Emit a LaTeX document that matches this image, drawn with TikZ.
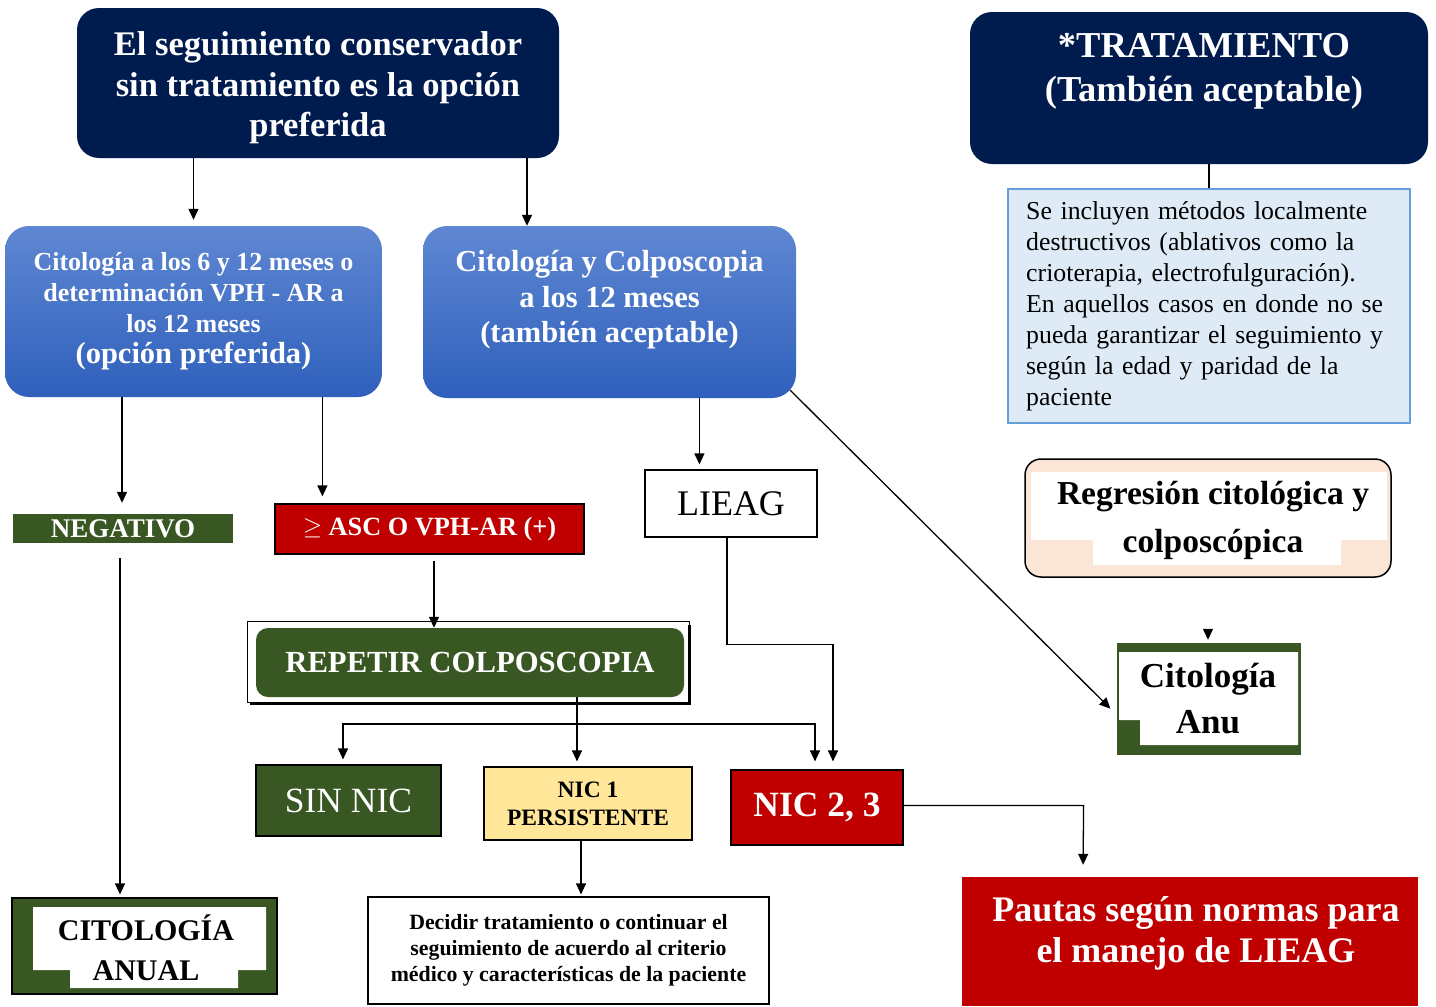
\documentclass[tikz,border=0pt]{standalone}
\usepackage{fontspec}
\setmainfont{Liberation Serif}
\usetikzlibrary{arrows.meta,calc}
\definecolor{navy}{RGB}{0,27,77}
\definecolor{bluetop}{RGB}{95,135,210}
\definecolor{bluebot}{RGB}{47,96,188}
\definecolor{leaf}{RGB}{56,87,35}
\definecolor{alarm}{RGB}{192,0,0}
\definecolor{sand}{RGB}{255,230,153}
\definecolor{sky}{RGB}{222,235,247}
\definecolor{skyline}{RGB}{100,160,215}
\definecolor{peach}{RGB}{251,229,214}
\newcommand{\fs}[2]{\fontsize{#1}{#2}\selectfont}
\tikzset{
  arr/.style={-{Triangle[length=11pt,width=10pt]}, line width=1.3pt},
  plain/.style={line width=1.1pt},
  navybox/.style={fill=navy, rounded corners=22pt, inner sep=0pt},
  bluebox/.style={top color=bluetop, bottom color=bluebot, rounded corners=24pt, text=white, align=center, inner sep=0pt},
  flat/.style={draw=black, line width=1.2pt, inner sep=0pt, align=center},
  whitetxt/.style={text=white, align=center, inner sep=0pt},
}
\begin{document}
\begin{tikzpicture}[x=1pt,y=-1pt]
\useasboundingbox (0,0) rectangle (1436,1007);

\node[navybox, minimum width=482pt, minimum height=150pt] (title) at (318,83) {};
\node[whitetxt, font=\fs{34.5}{40.5}\bfseries] (titletxt) at (318,88)
  {El seguimiento conservador\\sin tratamiento es la opción\\preferida};

\node[navybox, minimum width=458pt, minimum height=152pt] (trat) at (1199,88) {};
\node[whitetxt, font=\fs{36.5}{44}\bfseries] (trattxt) at (1204,71) {*TRATAMIENTO\\(También aceptable)};

\node[draw=skyline, fill=sky, line width=1.5pt, minimum width=402pt, minimum height=234pt] (info) at (1209,306) {};
\node[anchor=west, text width=380pt, align=left, inner sep=0pt, font=\fs{25.8}{31}] (infotxt) at (1026,306)
  {Se incluyen métodos localmente\\destructivos (ablativos como la\\crioterapia, electrofulguración).\\En aquellos casos en donde no se\\pueda garantizar el seguimiento y\\según la edad y paridad de la\\paciente};

\node[bluebox, minimum width=377pt, minimum height=171pt, font=\fs{26}{31}\bfseries] (lblue) at (193.5,311.5)
  {Citología a los 6 y 12 meses o\\determinación VPH - AR a\\los 12 meses\\\fs{30.5}{34}\bfseries(opción preferida)};
\node[bluebox, minimum width=373pt, minimum height=172pt] (rblue) at (609.5,312) {};
\node[whitetxt, font=\fs{30.5}{35.5}\bfseries] (rbluetxt) at (609.5,300)
  {Citología y Colposcopia\\a los 12 meses\\(también aceptable)};

\node[fill=leaf, whitetxt, minimum width=220pt, minimum height=29pt, font=\fs{27}{28}\bfseries] (neg) at (123,528.5) {NEGATIVO};
\node[flat, fill=alarm, text=white, minimum width=309pt, minimum height=50pt, font=\fs{26.3}{28}\bfseries] (asc) at (429.5,529) {\raisebox{1pt}{\fs{30}{30}$\geq$} ASC O VPH-AR (+)};
\node[flat, fill=white, minimum width=172pt, minimum height=67pt, font=\fs{36}{38}] (lieag) at (731,503.5) {LIEAG};

\node[fill=leaf, rounded corners=12pt, whitetxt, minimum width=428pt, minimum height=69pt, font=\fs{30.7}{34}\bfseries] (rep) at (470,662.5) {REPETIR COLPOSCOPIA};
\draw[line width=1.2pt] ([shift={(-8pt,6pt)}]rep.north west) rectangle ([shift={(5pt,-5pt)}]rep.south east);
\draw[line width=3pt] ([shift={(-6pt,-6pt)}]rep.south west) -- ([shift={(5pt,-6pt)}]rep.south east) -- ([shift={(5pt,3pt)}]rep.north east);

\node[flat, fill=leaf, text=white, minimum width=185pt, minimum height=71pt, font=\fs{35.5}{38}] (sinnic) at (348.5,800.5) {SIN NIC};
\node[flat, fill=sand, minimum width=208pt, minimum height=73pt, font=\fs{23.5}{28}\bfseries] (nic1) at (588,803.5) {NIC 1\\PERSISTENTE};
\node[flat, fill=alarm, text=white, minimum width=172pt, minimum height=75pt, font=\fs{35.5}{38}\bfseries] (nic23) at (817,807.5) {NIC 2, 3};

\node[flat, fill=white, minimum width=401pt, minimum height=107pt, font=\fs{21.8}{26}\bfseries] (dec) at (568.5,950.5)
  {Decidir tratamiento o continuar el\\seguimiento de acuerdo al criterio\\médico y características de la paciente};

\node[fill=alarm, minimum width=456pt, minimum height=129pt, inner sep=0pt] (pautas) at (1190,941.5) {};
\node[whitetxt, font=\fs{36}{41}\bfseries] (pautastxt) at (1196,933) {Pautas según normas para\\el manejo de LIEAG};

\node[draw=black, fill=leaf, line width=1.2pt, minimum width=265pt, minimum height=96pt, inner sep=0pt] (citleft) at (144.5,946) {};
\fill[white] (33,907) -- (266,907) -- (266,970) -- (238,970) -- (238,988) -- (70,988) -- (70,970) -- (33,970) -- cycle;
\node[inner sep=0pt, align=center, font=\fs{30}{40}\bfseries] (citlefttxt) at (146,948) {CITOLOGÍA\\ANUAL};

\node[draw=black, fill=peach, rounded corners=16pt, line width=1.5pt, minimum width=366pt, minimum height=118pt, inner sep=0pt] (regr) at (1208,518) {};
\fill[white] (1031,472) -- (1387,472) -- (1387,540) -- (1341,540) -- (1341,565) -- (1093,565) -- (1093,540) -- (1031,540) -- cycle;
\node[inner sep=0pt, align=center, font=\fs{33.5}{48}\bfseries] (regrtxt) at (1213,520) {Regresión citológica y\\colposcópica};

\node[fill=leaf, minimum width=184pt, minimum height=112pt, inner sep=0pt] (citright) at (1209,699) {};
\fill[white] (1119,652) -- (1298,652) -- (1298,745) -- (1140,745) -- (1140,720) -- (1119,720) -- cycle;
\node[inner sep=0pt, align=center, font=\fs{35}{46}\bfseries] (citrighttxt) at (1208,699) {Citología\\Anu};

\draw[arr, shorten >=6pt] (lblue.north |- title.south) -- (lblue.north);
\draw[arr] ([xshift=-82.5pt]rblue.north |- title.south) -- ([xshift=-82.5pt]rblue.north);
\draw[plain] (trat.south -| info.north) -- (info.north);

\draw[arr, shorten >=11pt] ([xshift=-1pt]neg.north |- lblue.south) -- ([xshift=-1pt]neg.north);
\draw[arr, shorten >=7pt] ([xshift=48pt]asc.north west |- lblue.south) -- ([xshift=48pt]asc.north west);
\draw[arr, shorten >=5pt] ([xshift=55pt]lieag.north west |- rblue.south) -- ([xshift=55pt]lieag.north west);
\draw[arr, shorten <=6pt] ([xshift=4.5pt]asc.south) -- ([xshift=4.5pt]asc.south |- rep.north);

\coordinate (split) at (577,724);
\draw[arr, shorten >=5pt] ([xshift=-11pt]nic1.north |- rep.south) -- ([xshift=-11pt]nic1.north);
\draw[arr, shorten >=5pt] (split) -| ([xshift=-5.5pt]sinnic.north);
\draw[arr, shorten >=8pt] (split) -| ([xshift=-2pt]nic23.north);
\draw[arr, shorten >=8pt] ([xshift=-4pt]lieag.south) -- ++(0,107) -| ([xshift=16pt]nic23.north);

\draw[arr, shorten >=2pt] ([xshift=-7pt]nic1.south) -- ([xshift=12.5pt]dec.north);
\draw[arr, shorten <=15pt, shorten >=3pt] ([xshift=-3pt]neg.south) -- ([xshift=-3pt]neg.south |- citleft.north);
\draw[arr, shorten >=12pt] ([yshift=2pt]nic23.east) -- ++(180,0) -- ([xshift=-107pt]pautas.north);
\draw[arr, shorten >=9pt] ([xshift=-6pt,yshift=8pt]rblue.south east) -- ([yshift=-16pt]citright.west);
\draw[arr, shorten <=52pt, shorten >=3pt] (regr.south) -- (regr.south |- citright.north);
\end{tikzpicture}
\end{document}
